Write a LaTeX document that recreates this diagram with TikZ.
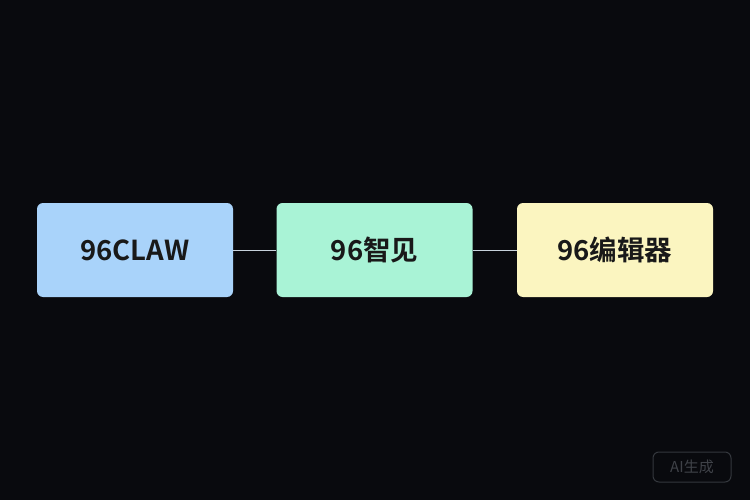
\documentclass[tikz,border=0pt]{standalone}
\usepackage{fontspec}
\newfontfamily\cjk[UprightFont={* Bold}]{Noto Sans CJK SC}
\newfontfamily\cjkr{Noto Sans CJK SC}
\definecolor{bg}{HTML}{090A0E}
\definecolor{cblue}{HTML}{A9D3FA}
\definecolor{cmint}{HTML}{A9F3D6}
\definecolor{cyel}{HTML}{FBF5C0}
\definecolor{cline}{HTML}{C8D2DC}
\definecolor{wm}{HTML}{34373D}
\definecolor{wmt}{HTML}{3F4248}
\begin{document}
\begin{tikzpicture}[x=1pt,y=-1pt,
  box/.style={rounded corners=6pt, minimum width=196pt, minimum height=94pt, inner sep=0pt,
    font=\cjk\fontsize{27.5}{32}\selectfont, text=black!90},
  link/.style={draw=cline, line width=1pt}]
\fill[bg] (0,0) rectangle (750,500);
\useasboundingbox (0,0) rectangle (750,500);
\node[box, fill=cblue] (a) at (135,250) {96CLAW};
\node[box, fill=cmint] (b) at (374.5,250) {96智见};
\node[box, fill=cyel] (c) at (615,250) {96编辑器};
\draw[link] (a.east) -- (b.west);
\draw[link] (b.east) -- (c.west);
\node[draw=wm, line width=1pt, rounded corners=6pt, minimum width=78pt, minimum height=30pt,
  text=wmt, font=\cjkr\fontsize{15}{17}\selectfont] (w) at (692,467) {AI生成};
\end{tikzpicture}
\end{document}
